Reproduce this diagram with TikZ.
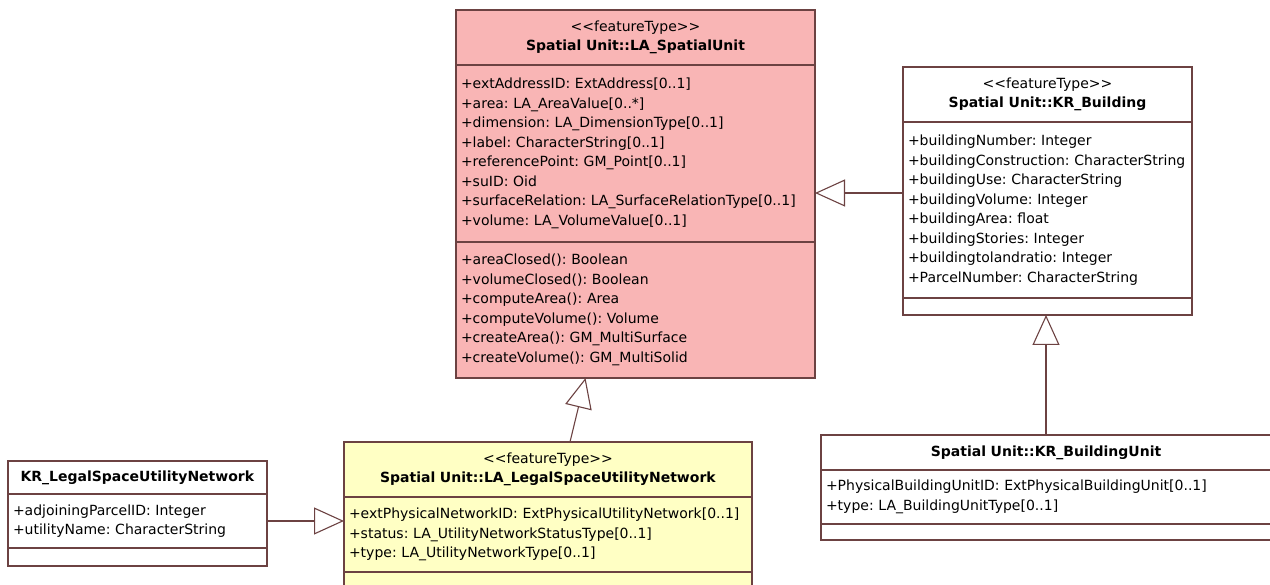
\documentclass[tikz,border=0pt]{standalone}
\usepackage{fontspec}
\setmainfont{DejaVu Sans}
\usepackage{xcolor}
\usetikzlibrary{positioning}
\usetikzlibrary{arrows.meta}

\definecolor{umlline}{RGB}{108,66,66}
\definecolor{supink}{RGB}{249,181,181}
\definecolor{netyellow}{RGB}{255,255,196}

\frenchspacing
\hyphenpenalty=10000
\exhyphenpenalty=10000
\newcommand{\umlstereo}[1]{<\kern0pt<#1>\kern0pt>}

\tikzset{
  umlpart/.style={draw=umlline, line width=1.1pt, outer sep=0pt, inner xsep=5pt, inner ysep=0pt,
    minimum width=#1, text width=#1-10pt, font=\fontsize{14}{19.5}\selectfont},
  head/.style={umlpart=#1, align=center},
  body/.style={umlpart=#1, align=left},
  gen/.style={draw=umlline, line width=1.1pt,
    -{Triangle[open, length=30pt, width=27pt, line width=1.1pt]}}
}

\begin{document}
\begin{tikzpicture}[x=1pt,y=-1pt]
  \useasboundingbox (0,0) rectangle (1270,585);
  \clip (0,0) rectangle (1270,585);

  \node[head=359pt, fill=supink, minimum height=55pt, anchor=north west] (suT) at (456,10)
    {\umlstereo{featureType}\\ \textbf{Spatial Unit::LA\_SpatialUnit}};
  \node[body=359pt, fill=supink, minimum height=177pt, below=0pt of suT] (suA)
    {+extAddressID: ExtAddress[0..1]\\ +area: LA\_AreaValue[0..*]\\ +dimension: LA\_DimensionType[0..1]\\
     +label: CharacterString[0..1]\\ +referencePoint: GM\_Point[0..1]\\ +suID: Oid\\
     +surfaceRelation: LA\_SurfaceRelationType[0..1]\\ +volume: LA\_VolumeValue[0..1]};
  \node[body=359pt, fill=supink, minimum height=136pt, below=0pt of suA] (suO)
    {+areaClosed(): Boolean\\ +volumeClosed(): Boolean\\ +computeArea(): Area\\
     +computeVolume(): Volume\\ +createArea(): GM\_MultiSurface\\ +createVolume(): GM\_MultiSolid};

  \node[head=289pt, fill=white, minimum height=55pt, anchor=north west] (bldT) at (903,67)
    {\umlstereo{featureType}\\ \textbf{Spatial Unit::KR\_Building}};
  \node[body=289pt, fill=white, minimum height=176pt, below=0pt of bldT] (bldA)
    {+buildingNumber: Integer\\ +buildingConstruction: CharacterString\\ +buildingUse: CharacterString\\
     +buildingVolume: Integer\\ +buildingArea: float\\ +buildingStories: Integer\\
     +buildingtolandratio: Integer\\ +ParcelNumber: CharacterString};
  \node[body=289pt, fill=white, minimum height=17pt, below=0pt of bldA] (bldO) {};

  \node[head=408pt, fill=netyellow, minimum height=55pt, anchor=north west] (lsunT) at (344,442)
    {\umlstereo{featureType}\\ \textbf{Spatial Unit::LA\_LegalSpaceUtilityNetwork}};
  \node[body=408pt, fill=netyellow, minimum height=75pt, below=0pt of lsunT] (lsunA)
    {+extPhysicalNetworkID: ExtPhysicalUtilityNetwork[0..1]\\
     +status: LA\_UtilityNetworkStatusType[0..1]\\ +type: LA\_UtilityNetworkType[0..1]};
  \node[body=408pt, fill=netyellow, minimum height=30pt, below=0pt of lsunA] (lsunO) {};

  \node[head=259pt, fill=white, minimum height=33pt, anchor=north west] (legalT) at (8,461)
    {\textbf{KR\_LegalSpaceUtilityNetwork}};
  \node[body=259pt, fill=white, minimum height=54pt, below=0pt of legalT] (legalA)
    {+adjoiningParcelID: Integer\\ +utilityName: CharacterString};
  \node[body=259pt, fill=white, minimum height=18pt, below=0pt of legalA] (legalO) {};

  \node[head=450pt, fill=white, minimum height=35pt, anchor=north west] (unitT) at (821,435)
    {\textbf{Spatial Unit::KR\_BuildingUnit}};
  \node[body=450pt, fill=white, minimum height=54pt, below=0pt of unitT] (unitA)
    {+PhysicalBuildingUnitID: ExtPhysicalBuildingUnit[0..1]\\ +type: LA\_BuildingUnitType[0..1]};
  \node[body=450pt, fill=white, minimum height=16pt, below=0pt of unitA] (unitO) {};

  \draw[gen] ([yshift=17pt]bldA.west) -- ([yshift=17pt]bldA.west -| suA.east);
  \draw[gen] (unitT.north) -- (unitT.north |- bldO.south);
  \draw[gen] ([xshift=22pt]lsunT.north) -- ([xshift=-50pt]suO.south);
  \draw[gen] (legalA.east) -- (legalA.east -| lsunA.west);
\end{tikzpicture}
\end{document}
